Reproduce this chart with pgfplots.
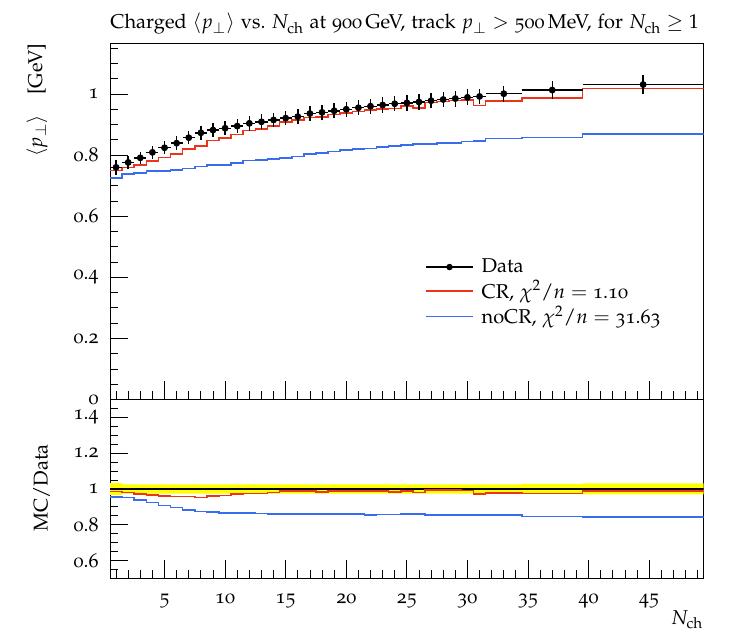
\documentclass[border=0pt]{standalone}
\usepackage[T1]{fontenc}
\usepackage[osf]{mathpazo}
\usepackage{pgfplots}
\pgfplotsset{compat=1.18}
\definecolor{mcred}{RGB}{238,52,24}
\definecolor{mcblue}{RGB}{58,108,240}
\definecolor{bandyellow}{RGB}{255,255,0}
\pgfplotsset{rivet/.style={
  width=296.85pt, scale only axis, xmin=0.5, xmax=49.5,
  tick align=inside, xtick pos=bottom, ytick pos=left,
  major tick length=9pt, minor tick length=4.2pt,
  xtick={5,10,15,20,25,30,35,40,45},
  minor xtick={1,2,3,4,6,7,8,9,11,12,13,14,16,17,18,19,21,22,23,24,26,27,28,29,31,32,33,34,36,37,38,39,41,42,43,44,46,47,48,49},
  axis line style={line width=0.4pt},
  every tick/.style={black, line width=0.4pt},
  /pgf/number format/assume math mode=true,
  /pgf/number format/fixed,
  tick label style={font=\normalsize},
  yticklabel style={xshift=-2.2pt},
  xticklabel style={yshift=-4pt},
}}
\begin{document}
\begin{tikzpicture}
\useasboundingbox (-55pt,-26.35pt) rectangle (318.5pt,289.15pt);
% ---------------- main panel ----------------
\begin{axis}[rivet, at={(0pt,89.4pt)}, anchor=south west, height=178.1pt,
  ymin=0, ymax=1.166,
  ytick={0,0.2,0.4,0.6,0.8,1},
  minor ytick={0.05,0.1,0.15,0.25,0.3,0.35,0.45,0.5,0.55,0.65,0.7,0.75,0.85,0.9,0.95,1.05,1.1,1.15},
  xticklabels={},
  legend style={at={(axis description cs:0.5306,0.405)}, anchor=north west, draw=none, fill=none,
    font=\normalsize, inner sep=0pt, row sep=-0.5pt,
    nodes={inner sep=1.5pt},
    /tikz/every odd column/.append style={column sep=2.5pt}},
  legend cell align=left,
  legend image code/.code={\draw[#1] (0pt,0pt) -- (23.3pt,0pt);},
]
\addlegendimage{legend image code/.code={\draw[black, line width=0.8pt] (0pt,0pt) -- (23.3pt,0pt); \fill[black] (11.65pt,0pt) circle (1.4pt);}}
\addlegendentry{Data}
\addlegendimage{mcred, line width=0.8pt}
\addlegendentry{CR, $\chi^2/n = \mbox{1.10}$}
\addlegendimage{mcblue, line width=0.8pt}
\addlegendentry{noCR, $\chi^2/n = \mbox{31.63}$}

% noCR
\addplot[forget plot, const plot mark left, mcblue, line width=0.8pt] coordinates {
(0.5,0.726)(1.5,0.738)(2.5,0.742)(3.5,0.747)(4.5,0.748)(5.5,0.751)(6.5,0.756)(7.5,0.763)
(8.5,0.767)(9.5,0.768)(10.5,0.774)(11.5,0.782)(12.5,0.784)(13.5,0.788)(14.5,0.791)(15.5,0.795)
(16.5,0.804)(17.5,0.807)(18.5,0.812)(19.5,0.816)(20.5,0.820)(21.5,0.821)(22.5,0.826)(23.5,0.830)
(24.5,0.834)(25.5,0.837)(26.5,0.836)(27.5,0.840)(28.5,0.840)(29.5,0.844)(30.5,0.846)
(31.5,0.854)(34.5,0.857)(39.5,0.870)(49.5,0.870)};
% CR
\addplot[forget plot, const plot mark left, mcred, line width=0.8pt] coordinates {
(0.5,0.749)(1.5,0.760)(2.5,0.767)(3.5,0.781)(4.5,0.792)(5.5,0.803)(6.5,0.820)(7.5,0.830)
(8.5,0.848)(9.5,0.856)(10.5,0.868)(11.5,0.880)(12.5,0.885)(13.5,0.896)(14.5,0.909)(15.5,0.914)
(16.5,0.923)(17.5,0.924)(18.5,0.933)(19.5,0.938)(20.5,0.943)(21.5,0.948)(22.5,0.951)(23.5,0.952)
(24.5,0.960)(25.5,0.954)(26.5,0.972)(27.5,0.976)(28.5,0.979)(29.5,0.980)(30.5,0.962)
(31.5,0.978)(34.5,0.987)(39.5,1.018)(49.5,1.018)};
% Data
\addplot[forget plot, only marks, black, mark=*, mark size=1.5pt,
  error bars/.cd, x dir=both, x explicit, y dir=both, y explicit, error mark=none,
  error bar style={black, line width=0.7pt}] coordinates {
(1,0.760) +- (0.5,0.025)
(2,0.776) +- (0.5,0.020)
(3,0.791) +- (0.5,0.020)
(4,0.809) +- (0.5,0.021)
(5,0.824) +- (0.5,0.021)
(6,0.839) +- (0.5,0.022)
(7,0.857) +- (0.5,0.022)
(8,0.873) +- (0.5,0.023)
(9,0.882) +- (0.5,0.023)
(10,0.888) +- (0.5,0.023)
(11,0.895) +- (0.5,0.023)
(12,0.904) +- (0.5,0.024)
(13,0.909) +- (0.5,0.024)
(14,0.915) +- (0.5,0.024)
(15,0.921) +- (0.5,0.024)
(16,0.926) +- (0.5,0.024)
(17,0.936) +- (0.5,0.024)
(18,0.940) +- (0.5,0.024)
(19,0.945) +- (0.5,0.025)
(20,0.950) +- (0.5,0.025)
(21,0.955) +- (0.5,0.025)
(22,0.960) +- (0.5,0.025)
(23,0.964) +- (0.5,0.025)
(24,0.968) +- (0.5,0.025)
(25,0.971) +- (0.5,0.025)
(26,0.974) +- (0.5,0.025)
(27,0.978) +- (0.5,0.025)
(28,0.982) +- (0.5,0.026)
(29,0.985) +- (0.5,0.026)
(30,0.989) +- (0.5,0.026)
(31,0.992) +- (0.5,0.026)
(33,1.001) +- (1.5,0.026)
(37,1.013) +- (2.5,0.028)
(44.5,1.031) +- (5,0.031)};
\end{axis}
% ---------------- ratio panel ----------------
\begin{axis}[rivet, at={(0pt,0pt)}, anchor=south west, height=89.4pt,
  ymin=0.5, ymax=1.5,
  ytick={0.6,0.8,1,1.2,1.4},
  minor ytick={0.55,0.65,0.7,0.75,0.85,0.9,0.95,1.05,1.1,1.15,1.25,1.3,1.35,1.45},
]
% data uncertainty band
\addplot[fill=bandyellow, draw=none] coordinates {
(0.5,0.967)(0.5,1.033)(1.5,1.033)(1.5,1.026)(34.5,1.026)(34.5,1.028)(39.5,1.028)(39.5,1.031)(49.5,1.031)
(49.5,0.969)(39.5,0.969)(39.5,0.972)(34.5,0.972)(34.5,0.974)(1.5,0.974)(1.5,0.967)} -- cycle;
\addplot[black, line width=0.6pt] coordinates {(0.5,1)(49.5,1)};
% noCR / data
\addplot[const plot mark left, mcblue, line width=0.8pt] coordinates {
(0.5,0.955)(1.5,0.951)(2.5,0.938)(3.5,0.923)(4.5,0.908)(5.5,0.895)(6.5,0.882)(7.5,0.874)
(8.5,0.870)(9.5,0.865)(10.5,0.865)(11.5,0.865)(12.5,0.862)(13.5,0.861)(14.5,0.859)(15.5,0.859)
(16.5,0.859)(17.5,0.859)(18.5,0.859)(19.5,0.859)(20.5,0.859)(21.5,0.855)(22.5,0.857)(23.5,0.857)
(24.5,0.859)(25.5,0.859)(26.5,0.855)(27.5,0.855)(28.5,0.853)(29.5,0.853)(30.5,0.853)
(31.5,0.853)(34.5,0.846)(39.5,0.844)(49.5,0.844)};
% CR / data
\addplot[const plot mark left, mcred, line width=0.8pt] coordinates {
(0.5,0.985)(1.5,0.979)(2.5,0.970)(3.5,0.966)(4.5,0.961)(5.5,0.957)(6.5,0.957)(7.5,0.951)
(8.5,0.961)(9.5,0.964)(10.5,0.970)(11.5,0.974)(12.5,0.974)(13.5,0.979)(14.5,0.987)(15.5,0.987)
(16.5,0.988)(17.5,0.983)(18.5,0.987)(19.5,0.987)(20.5,0.987)(21.5,0.987)(22.5,0.987)(23.5,0.983)
(24.5,0.989)(25.5,0.979)(26.5,0.994)(27.5,0.994)(28.5,0.994)(29.5,0.991)(30.5,0.970)
(31.5,0.977)(34.5,0.974)(39.5,0.987)(49.5,0.987)};
\end{axis}
% ---------------- labels ----------------
\node[anchor=base west, inner sep=0pt, font=\normalsize] at (0pt,274.65pt)
  {Charged $\langle p_\perp\rangle$ vs.\ $N_\mathrm{ch}$ at 900\,GeV, track $p_\perp > \mbox{500}$\,MeV, for $N_\mathrm{ch} \geq 1$};
\node[rotate=90, anchor=east, inner sep=0pt, font=\normalsize] at (-36.5pt,267.5pt)
  {$\langle p_\perp\rangle$\quad [GeV]};
\node[rotate=90, anchor=center, inner sep=0pt, font=\normalsize] at (-34.25pt,45.15pt) {MC/Data};
\node[anchor=base east, inner sep=0pt, font=\normalsize] at (296.85pt,-23.2pt) {$N_\mathrm{ch}$};
\end{tikzpicture}
\end{document}
